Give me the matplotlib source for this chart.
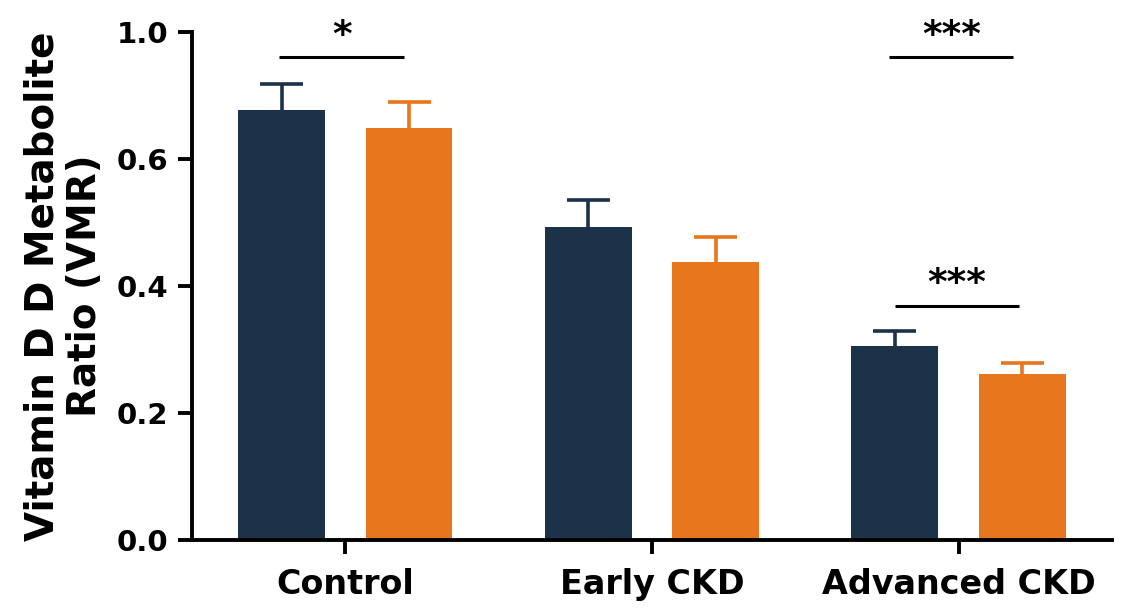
import matplotlib
matplotlib.use("Agg")
import matplotlib.pyplot as plt
import numpy as np

categories = ["Control", "Early CKD", "Advanced CKD"]
navy_vals = [0.677, 0.493, 0.306]
navy_err = [0.041, 0.042, 0.023]
orange_vals = [0.649, 0.438, 0.261]
orange_err = [0.041, 0.039, 0.018]
ytick_vals = [0.0, 0.2, 0.4, 0.6, 0.8]
ytick_labels = ["0.0", "0.2", "0.4", "0.6", "1.0"]
sig_cats = [0, 2, 2]
sig_heights = [0.761, 0.761, 0.369]
sig_labels = ["*", "***", "***"]
sig_shift = [-0.012, -0.024, -0.005]

plt.rcParams['font.family'] = ['DejaVu Sans']
plt.rcParams['font.weight'] = 'bold'

navy = "#1b3249"
orange = "#e8761c"

fig = plt.figure(figsize=(11.26, 6.14), dpi=100)
ax = fig.add_axes([0.1705, 0.1205, 0.817, 0.8275])

x = np.arange(len(categories))
w = 0.283
off = 0.208
cap = 0.07
for xs, vals, errs, col in [(x - off, navy_vals, navy_err, navy),
                            (x + off, orange_vals, orange_err, orange)]:
    ax.bar(xs, vals, w, color=col, zorder=2)
    tops = np.array(vals) + np.array(errs)
    ax.vlines(xs, vals, tops, color=col, lw=2.6, zorder=1)
    ax.hlines(tops, xs - cap, xs + cap, color=col, lw=2.6, zorder=1)

for ci, yl, lab, s in zip(sig_cats, sig_heights, sig_labels, sig_shift):
    x0 = ci - off + s + 0.005
    x1 = ci + off + s - 0.005
    ax.plot([x0, x1], [yl, yl], color="black", lw=2.2, solid_capstyle='butt')
    ax.text((x0 + x1) / 2, yl + 0.005, lab, ha="center", va="bottom",
            fontsize=27, fontweight="bold")

ax.set_xlim(-0.5, 2.5)
ax.set_ylim(0, 0.8)
ax.set_yticks(ytick_vals)
ax.set_yticklabels(ytick_labels)
ax.set_xticks(x)
ax.set_xticklabels(categories)
for sp in ["top", "right"]:
    ax.spines[sp].set_visible(False)
for sp in ["left", "bottom"]:
    ax.spines[sp].set_linewidth(2.8)
ax.tick_params(axis="both", width=2.8, length=10, labelsize=21, pad=7)
ax.tick_params(axis="x", pad=10, labelsize=24)
for lbl in ax.get_xticklabels() + ax.get_yticklabels():
    lbl.set_fontweight("bold")
ax.set_ylabel("Vitamin D D Metabolite\nRatio (VMR)", fontsize=28, fontweight="bold",
              labelpad=9, linespacing=1.15)

fig.savefig("out.png", dpi=100, facecolor="white")
